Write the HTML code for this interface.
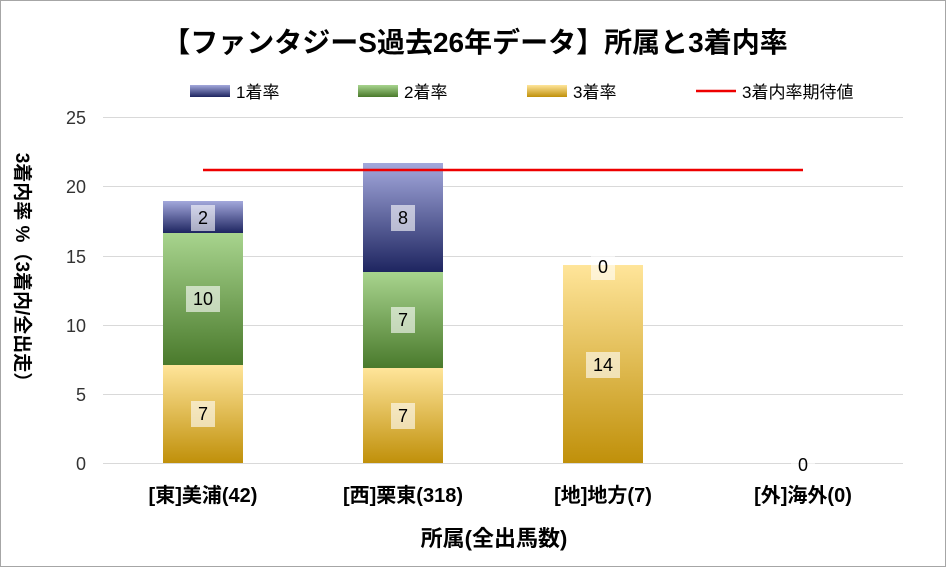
<!DOCTYPE html>
<html><head><meta charset="utf-8"><style>
body{margin:0;background:#fff}
text{font-family:"Liberation Sans","Noto Sans CJK JP",sans-serif}
</style></head><body>
<svg width="946" height="567" xmlns="http://www.w3.org/2000/svg">
<defs>
<linearGradient id="g1" x1="0" y1="0" x2="0" y2="1"><stop offset="0" stop-color="#a3a8dc"/><stop offset="1" stop-color="#1e2560"/></linearGradient>
<linearGradient id="g2" x1="0" y1="0" x2="0" y2="1"><stop offset="0" stop-color="#a8d48e"/><stop offset="1" stop-color="#4a7a2c"/></linearGradient>
<linearGradient id="g3" x1="0" y1="0" x2="0" y2="1"><stop offset="0" stop-color="#ffe59a"/><stop offset="1" stop-color="#c0900a"/></linearGradient>
</defs>
<rect x="0.5" y="0.5" width="945" height="566" fill="#fff" stroke="#a6a6a6"/>
<text x="475" y="52" font-size="28" font-weight="bold" text-anchor="middle" fill="#000">【ファンタジーS過去26年データ】所属と3着内率</text>
<rect x="190" y="85" width="40" height="12" fill="url(#g1)"/><text x="236" y="98" font-size="17">1着率</text>
<rect x="358" y="85" width="40" height="12" fill="url(#g2)"/><text x="404" y="98" font-size="17">2着率</text>
<rect x="527" y="85" width="40" height="12" fill="url(#g3)"/><text x="573" y="98" font-size="17">3着率</text>
<line x1="696" y1="91" x2="736" y2="91" stroke="#e00" stroke-width="2.5"/><text x="742" y="98" font-size="17">3着内率期待値</text>
<g stroke="#d9d9d9" stroke-width="1">
<line x1="103" y1="117.5" x2="903" y2="117.5"/><line x1="103" y1="186.5" x2="903" y2="186.5"/><line x1="103" y1="256.5" x2="903" y2="256.5"/><line x1="103" y1="325.5" x2="903" y2="325.5"/><line x1="103" y1="394.5" x2="903" y2="394.5"/><line x1="103" y1="463.5" x2="903" y2="463.5"/>
</g>
<g font-size="18" text-anchor="end" fill="#333">
<text x="86" y="124">25</text><text x="86" y="193">20</text><text x="86" y="263">15</text><text x="86" y="332">10</text><text x="86" y="401">5</text><text x="86" y="470">0</text>
</g>
<rect x="163" y="365" width="80" height="98" fill="url(#g3)"/>
<rect x="163" y="233" width="80" height="132" fill="url(#g2)"/>
<rect x="163" y="201" width="80" height="32" fill="url(#g1)"/>
<rect x="363" y="368" width="80" height="95" fill="url(#g3)"/>
<rect x="363" y="272" width="80" height="96" fill="url(#g2)"/>
<rect x="363" y="163" width="80" height="109" fill="url(#g1)"/>
<rect x="563" y="265" width="80" height="198" fill="url(#g3)"/>
<line x1="203" y1="170" x2="803" y2="170" stroke="#e00" stroke-width="2.5"/>
<g font-size="18" text-anchor="middle" fill="#000">
<rect x="191" y="205" width="24" height="26" fill="#fff" opacity="0.6"/><text x="203" y="224">2</text>
<rect x="186" y="286" width="34" height="26" fill="#fff" opacity="0.6"/><text x="203" y="305">10</text>
<rect x="191" y="401" width="24" height="26" fill="#fff" opacity="0.6"/><text x="203" y="420">7</text>
<rect x="391" y="205" width="24" height="26" fill="#fff" opacity="0.6"/><text x="403" y="224">8</text>
<rect x="391" y="307" width="24" height="26" fill="#fff" opacity="0.6"/><text x="403" y="326">7</text>
<rect x="391" y="403" width="24" height="26" fill="#fff" opacity="0.6"/><text x="403" y="422">7</text>
<rect x="591" y="254" width="24" height="26" fill="#fff" opacity="0.6"/><text x="603" y="273">0</text>
<rect x="586" y="352" width="34" height="26" fill="#fff" opacity="0.6"/><text x="603" y="371">14</text>
<rect x="791" y="452" width="24" height="26" fill="#fff" opacity="0.6"/><text x="803" y="471">0</text>
</g>
<g font-size="20" font-weight="bold" text-anchor="middle" fill="#000">
<text x="203" y="502">[東]美浦(42)</text>
<text x="403" y="502">[西]栗東(318)</text>
<text x="603" y="502">[地]地方(7)</text>
<text x="803" y="502">[外]海外(0)</text>
<text x="494" y="546" font-size="22">所属(全出馬数)</text>
</g>
<text transform="translate(16,272) rotate(90)" font-size="19" font-weight="bold" text-anchor="middle">3着内率 %（3着内/全出走）</text>
</svg>
</body></html>
